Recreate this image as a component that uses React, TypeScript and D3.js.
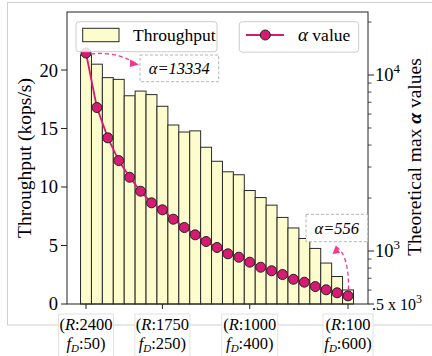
import React from "react";
import * as d3 from "d3";

const throughput = [21.3, 20.5, 19.35, 19.2, 17.8, 18.2, 17.9, 16.9, 15.3, 14.7, 14.8, 13.4, 12.2, 11.3, 11.05, 9.7, 9.1, 8.45, 7.4, 6.5, 5.6, 4.75, 3.5, 2.35, 1.2];
const alphaValues = [13334, 6535, 4395, 3266, 2624, 2187, 1878, 1714, 1516, 1360, 1236, 1132, 1047, 964, 922, 864, 809, 772, 735, 691, 665, 628, 602, 579, 556];
const xTickIdx = [0, 7, 15, 24];
const xTickR = ["2400", "1750", "1000", "100"];
const xTickF = ["50", "250", "400", "600"];
const leftTicks = [0, 5, 10, 15, 20];
const rightMajor = [1000, 10000];
const rightMinor = [600, 700, 800, 900, 2000, 3000, 4000, 5000, 6000, 7000, 8000, 9000, 20000];

const W = 432, H = 356;
const L = 67, R = 368, T = 12, B = 304;
const serif = "'Liberation Serif', 'DejaVu Serif', serif";
const pink = "#d81b72";
const arrowPink = "#ee3a92";

export default function App() {
  const x = d3.scaleLinear().domain([-1.74, 25.83]).range([L, R]);
  const y = d3.scaleLinear().domain([0, 24.96]).range([B, T]);
  const yr = d3.scaleLog().domain([500, 22800]).range([B, T]);
  const bw = x(1) - x(0);
  const line = d3.line<number>().x((_, i) => x(i)).y((d) => yr(d));

  const boxes = [
    { cx: x(0), w: 55 },
    { cx: x(7), w: 55 },
    { cx: x(15), w: 56 },
    { cx: x(24), w: 50 },
  ];

  const p0x = x(0), p0y = yr(alphaValues[0]);
  const pLx = x(24), pLy = yr(alphaValues[24]);

  return (
    <svg width={W} height={H} style={{ position: "absolute", left: 0, top: 0, background: "white" }} fontFamily={serif}>
      <rect x={7.5} y={2.5} width={440} height={322.5} fill="white" stroke="#cfcfcf" strokeWidth={1} />
      {/* bars */}
      {throughput.map((v, i) => (
        <rect key={"b" + i} x={x(i) - bw / 2} y={y(v)} width={bw} height={y(0) - y(v)} fill="#fdfccd" stroke="#2a2a2a" strokeWidth={1} />
      ))}
      {/* line & markers */}
      <path d={line(alphaValues) || ""} fill="none" stroke={pink} strokeWidth={1.8} />
      {alphaValues.map((v, i) => (
        <circle key={"c" + i} cx={x(i)} cy={yr(v)} r={5} fill={pink} stroke="#222" strokeWidth={1} />
      ))}
      {/* frame */}
      <rect x={L} y={T} width={R - L} height={B - T} fill="none" stroke="#222" strokeWidth={1} />
      {/* left axis ticks */}
      {leftTicks.map((t) => (
        <g key={"l" + t}>
          <line x1={L} x2={L - 6} y1={y(t)} y2={y(t)} stroke="#222" />
          <text x={58} y={y(t)} dy="0.35em" textAnchor="end" fontSize={18.5}>{t}</text>
        </g>
      ))}
      {/* right axis ticks */}
      {rightMinor.map((t) => (
        <line key={"m" + t} x1={R} x2={R + 3.5} y1={yr(t)} y2={yr(t)} stroke="#222" strokeWidth={0.8} />
      ))}
      {rightMajor.map((t, k) => (
        <g key={"r" + t}>
          <line x1={R} x2={R + 6} y1={yr(t)} y2={yr(t)} stroke="#222" />
          <text x={R + 7} y={yr(t)} dy="0.35em" fontSize={18.5}>
            10<tspan dy="-8" fontSize={13}>{k === 0 ? "3" : "4"}</tspan>
          </text>
        </g>
      ))}
      <line x1={R} x2={R + 6} y1={yr(500)} y2={yr(500)} stroke="#222" />
      <text x={R + 4} y={yr(500)} dy="0.35em" fontSize={16}>
        .5 x 10<tspan dy="-7" fontSize={12}>3</tspan>
      </text>
      {/* x ticks */}
      {xTickIdx.map((idx, k) => (
        <g key={"x" + idx}>
          <line x1={x(idx)} x2={x(idx)} y1={B} y2={B + 5} stroke="#222" />
          <rect x={boxes[k].cx - boxes[k].w / 2} y={314} width={boxes[k].w} height={50} fill="white" stroke="#e2e2e2" strokeWidth={1} />
          <text x={x(idx)} y={330} textAnchor="middle" fontSize={16.5}>
            (<tspan fontStyle="italic">R</tspan>:{xTickR[k]}
          </text>
          <text x={x(idx)} y={349} textAnchor="middle" fontSize={16.5}>
            <tspan fontStyle="italic">f</tspan><tspan fontStyle="italic" fontSize={11} dy="3">D</tspan><tspan dy="-3">:{xTickF[k]})</tspan>
          </text>
        </g>
      ))}
      {/* axis labels */}
      <text transform={`translate(31,158) rotate(-90)`} textAnchor="middle" fontSize={19.5}>Throughput (kops/s)</text>
      <text transform={`translate(421,157) rotate(-90)`} textAnchor="middle" fontSize={19.5}>
        Theoretical max <tspan fontStyle="italic" fontWeight="bold">α</tspan> values
      </text>
      {/* legends */}
      <rect x={76} y={21.7} width={141} height={30} rx={3} fill="white" fillOpacity={0.85} stroke="#cccccc" />
      <rect x={82.7} y={28.3} width={36.3} height={13.4} fill="#fdfccd" stroke="#2a2a2a" />
      <text x={133} y={41} fontSize={17.5}>Throughput</text>
      <rect x={239.3} y={21.7} width={119.4} height={30.5} rx={3} fill="white" fillOpacity={0.85} stroke="#cccccc" />
      <line x1={246} x2={284} y1={35} y2={35} stroke={pink} strokeWidth={1.8} />
      <circle cx={265.3} cy={35} r={5} fill={pink} stroke="#222" />
      <text x={298} y={41} fontSize={17.5}>
        <tspan fontStyle="italic" fontSize={19}>α</tspan> value
      </text>
      {/* annotations */}
      <rect x={140} y={55} width={78.7} height={26.7} fill="white" stroke="#aaaaaa" strokeDasharray="3,2" strokeWidth={0.9} />
      <text x={179.3} y={74} textAnchor="middle" fontSize={16.5} fontStyle="italic">α=13334</text>
      <path d={`M${p0x + 5},${p0y + 1} Q${p0x + 30},${p0y - 2} ${137},${64}`} fill="none" stroke={arrowPink} strokeWidth={1.3} strokeDasharray="4,3" />
      <path d={`M130,59.5 L139,64.5 L130,67 Z`} fill={arrowPink} />
      <rect x={306} y={214.3} width={61.7} height={27.4} fill="white" stroke="#aaaaaa" strokeDasharray="3,2" strokeWidth={0.9} />
      <text x={336.8} y={233.5} textAnchor="middle" fontSize={16.5} fontStyle="italic">α=556</text>
      <path d={`M${pLx + 0.5},${pLy - 6} Q${pLx + 1},${255} ${336.5},${247}`} fill="none" stroke={arrowPink} strokeWidth={1.3} strokeDasharray="4,3" />
      <path d={`M332.5,254 L336,245 L340,253 Z`} fill={arrowPink} />
    </svg>
  );
}
